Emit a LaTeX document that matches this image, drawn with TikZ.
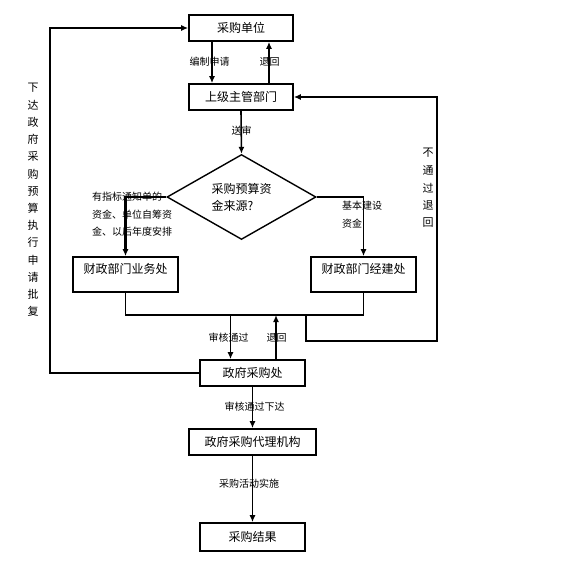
\documentclass[tikz,border=0pt]{standalone}
\usepackage{fontspec}
\setmainfont{Noto Sans CJK SC}
\usepackage{tikz}
\usetikzlibrary{shapes.geometric,arrows.meta}

\begin{document}
\begin{tikzpicture}[x=1pt,y=-1pt]
    \tikzstyle{flowbox}=[draw, line width=1.6pt, minimum width=105pt, minimum height=26pt, inner sep=0pt, font=\fontsize{12}{14}\selectfont]
    \tikzstyle{tallbox}=[flowbox, minimum height=35pt, text depth=13pt]
    \tikzstyle{flowline}=[line width=1.6pt]
    \tikzstyle{flowarrow}=[line width=1.6pt, -{Latex[length=7pt,width=6pt]}]
    \tikzstyle{boldarrow}=[line width=2.2pt, -{Latex[length=7pt,width=6pt]}]
    \tikzstyle{lbl}=[inner sep=0pt, font=\fontsize{10}{17.5}\selectfont]

    \useasboundingbox (0,0) rectangle (575,561);

    % boxes
    \node[flowbox, minimum width=104pt] (unit) at (241,28) {采购单位};
    \node[flowbox, minimum width=104pt] (superior) at (241,97) {上级主管部门};
    \node[draw, diamond, shape aspect=1.75, minimum width=149pt, minimum height=85pt, inner sep=0pt,
          line width=1.4pt, align=left, font=\fontsize{12}{17}\selectfont] (source) at (241.5,197) {采购预算资\\金来源?};
    \node[tallbox] (ywc) at (125.5,274.5) {财政部门业务处};
    \node[tallbox] (jjc) at (363.5,274.5) {财政部门经建处};
    \node[flowbox] (gpo) at (252.5,373) {政府采购处};
    \node[flowbox, minimum width=127pt] (agency) at (252.5,442) {政府采购代理机构};
    \node[flowbox, minimum height=28pt] (result) at (252.5,537) {采购结果};

    \coordinate (join) at (241,315);
    \coordinate (rejectR) at (437,341);
    \coordinate (loopL) at (50,373);

    % connectors
    \draw[boldarrow] ([xshift=-29pt]unit.south) -- ([xshift=-29pt]superior.north);
    \draw[flowarrow] ([xshift=28pt]superior.north) -- ([xshift=28pt]unit.south);
    \draw[flowarrow] (superior.south) -- (source.north);
    \draw[boldarrow] (source.west) -| (ywc.north);
    \draw[flowarrow] (source.east) -| (jjc.north);
    \draw[flowline] (ywc.south) |- (join) -| (jjc.south);
    \draw[flowarrow] ([xshift=-22pt]gpo.north |- join) -- ([xshift=-22pt]gpo.north);
    \draw[flowarrow] ([xshift=23.5pt]gpo.north) -- ([xshift=23.5pt]gpo.north |- join);
    \draw[flowarrow] (gpo.north east |- join) |- (rejectR) |- (superior.east);
    \draw[flowarrow] (gpo.west) -- (loopL) |- (unit.west);
    \draw[flowarrow] (gpo.south) -- (agency.north);
    \draw[flowarrow] (agency.south) -- (result.north);

    % labels
    \node[lbl] (apply) at (209.5,62) {编制申请};
    \node[lbl] (back1) at (269.5,62) {退回};
    \node[lbl] (send) at (241.5,131) {送审};
    \node[lbl, align=left, anchor=north west] (fundL) at (92,192) {有指标通知单的\\资金、单位自筹资\\金、以后年度安排};
    \node[lbl, align=left, anchor=north west] (fundR) at (342,201) {基本建设\\资金};
    \node[lbl] (pass) at (228.5,338) {审核通过};
    \node[lbl] (back2) at (276.5,338) {退回};
    \node[lbl] (issue) at (254.5,407) {审核通过下达};
    \node[lbl] (carry) at (249,484) {采购活动实施};

    \foreach \ch [count=\i] in {不,通,过,退,回}
      {\node[lbl, font=\fontsize{11}{13}\selectfont] (rv\i) at (428,{153+17.5*(\i-1)}) {\ch};}
    \foreach \ch [count=\i] in {下,达,政,府,采,购,预,算,执,行,申,请,批,复}
      {\node[lbl, font=\fontsize{11}{13}\selectfont] (lv\i) at (33,{88+17.2*(\i-1)}) {\ch};}
\end{tikzpicture}
\end{document}
